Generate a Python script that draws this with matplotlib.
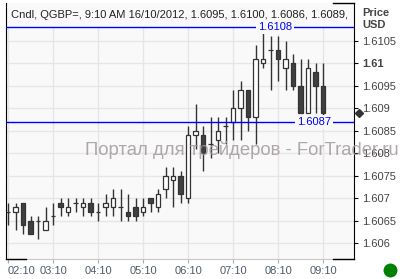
import matplotlib.pyplot as plt
from matplotlib.patches import Rectangle
from matplotlib.lines import Line2D

plt.rcParams['font.family'] = ['Liberation Sans', 'DejaVu Sans']

# 10-minute candles, 02:10 .. 09:10, 16/10/2012
hour_labels = ["02:10", "03:10", "04:10", "05:10", "06:10", "07:10", "08:10", "09:10"]
opens = [1.6067, 1.6067, 1.6069, 1.6065, 1.6065, 1.6063, 1.6066, 1.6069, 1.6067, 1.6069,
         1.6068, 1.6069, 1.6067, 1.6068, 1.6068, 1.6068, 1.6067, 1.6068, 1.6067, 1.6070,
         1.6068, 1.6072, 1.6074, 1.6075, 1.6070, 1.6084, 1.6084, 1.6082, 1.6083, 1.6086,
         1.6087, 1.6090, 1.6094, 1.6088, 1.6100, 1.6103, 1.6103, 1.6099, 1.6100, 1.6095,
         1.6089, 1.6098, 1.6095]
highs = [1.6069, 1.6069, 1.6069, 1.6066, 1.6066, 1.6068, 1.6069, 1.6070, 1.6070, 1.6070,
         1.6070, 1.6070, 1.6069, 1.6071, 1.6072, 1.6072, 1.6071, 1.6070, 1.6070, 1.6070,
         1.6072, 1.6077, 1.6077, 1.6076, 1.6086, 1.6091, 1.6086, 1.6088, 1.6088, 1.6088,
         1.6094, 1.6096, 1.6094, 1.6104, 1.6108, 1.6106, 1.6106, 1.6105, 1.6102, 1.6101,
         1.6101, 1.6100, 1.6100]
lows = [1.6064, 1.6063, 1.6062, 1.6062, 1.6061, 1.6063, 1.6064, 1.6066, 1.6066, 1.6067,
        1.6066, 1.6066, 1.6065, 1.6066, 1.6066, 1.6065, 1.6065, 1.6065, 1.6066, 1.6067,
        1.6067, 1.6070, 1.6068, 1.6069, 1.6069, 1.6081, 1.6076, 1.6079, 1.6080, 1.6082,
        1.6083, 1.6083, 1.6085, 1.6082, 1.6099, 1.6094, 1.6096, 1.6094, 1.6094, 1.6089,
        1.6089, 1.6089, 1.6086]
closes = [1.6067, 1.6068, 1.6064, 1.6062, 1.6065, 1.6065, 1.6066, 1.6068, 1.6068, 1.6069,
          1.6069, 1.6067, 1.6067, 1.6069, 1.6070, 1.6068, 1.6066, 1.6066, 1.6068, 1.6069,
          1.6071, 1.6075, 1.6075, 1.6071, 1.6084, 1.6085, 1.6080, 1.6082, 1.6085, 1.6086,
          1.6090, 1.6094, 1.6088, 1.6101, 1.6101, 1.6103, 1.6101, 1.6101, 1.6095, 1.6089,
          1.6099, 1.6095, 1.6089]
price_ticks = [1.606, 1.6065, 1.607, 1.6075, 1.608, 1.6085, 1.609, 1.6095, 1.61, 1.6105]
price_labels = ["1.606", "1.6065", "1.607", "1.6075", "1.608", "1.6085", "1.609", "1.6095", "1.61", "1.6105"]
high_level = 1.6108
last_level = 1.6087
last_close = 1.6089
title = "Cndl, QGBP=, 9:10 AM 16/10/2012, 1.6095, 1.6100, 1.6086, 1.6089,"
watermark = "Портал для трейдеров - ForTrader.ru"

bg = '#f9f9f9'
dark = '#333333'

fig = plt.figure(figsize=(4, 2.79), dpi=100)
ax = fig.add_axes([6 / 400, 1 - 259.3 / 279, 348 / 400, 256.3 / 279])
ax.set_facecolor(bg)

n = len(opens)
xs = list(range(n))
ax.vlines(xs, lows, highs, color=dark, lw=1.0, zorder=3)
bottoms = [min(o, c) for o, c in zip(opens, closes)]
heights = [abs(c - o) for o, c in zip(opens, closes)]
faces = ['white' if c >= o else '#404040' for o, c in zip(opens, closes)]
ax.bar(xs, heights, bottom=bottoms, width=0.64, color=faces, edgecolor=dark, lw=0.9, zorder=4)

ax.set_xlim(-0.27, 46.13)
ax.set_ylim(1.605644, 1.61134)

ax.set_xticks(range(0, n, 6))
ax.set_xticklabels(hour_labels)
ax.get_xticklabels()[0].set_horizontalalignment('left')
ax.tick_params(axis='x', length=3, color='#aaaaaa', labelcolor='#4f5b6b', labelsize=8, pad=2)

ax.yaxis.tick_right()
ax.set_yticks(price_ticks)
ax.set_yticklabels(price_labels)
ax.tick_params(axis='y', length=3, color='black', labelcolor='#444444', labelsize=8, pad=3)
for lab in ax.get_yticklabels():
    if lab.get_text() == "1.61":
        lab.set_fontweight('bold')

ax.grid(True, color='#e6e6e6', lw=1, zorder=0)
ax.set_axisbelow(True)

ax.spines['top'].set_visible(False)
ax.spines['bottom'].set_color('#c8c8c8')
ax.spines['left'].set_color('black')
ax.spines['right'].set_color('black')
ax.add_line(Line2D([0, 20 / 348], [0, 0], transform=ax.transAxes, color='black', lw=1, clip_on=False, zorder=6))
ax.add_line(Line2D([327 / 348, 1], [0, 0], transform=ax.transAxes, color='black', lw=1, clip_on=False, zorder=6))
ax.add_line(Line2D([327 / 348, 1], [1, 1], transform=ax.transAxes, color='black', lw=1, clip_on=False, zorder=6))

# title band
ax.add_patch(Rectangle((0, 0.91), 1, 0.09, transform=ax.transAxes, color=bg, zorder=1.5))
ax.text(5 / 348, 0.953, title, transform=ax.transAxes, va='center', ha='left',
        fontsize=8, color='#222222', zorder=7)

# level lines
ax.axhline(high_level, color='#0000ff', lw=1, zorder=5)
ax.axhline(last_level, color='#0000ff', lw=1, zorder=5)
ax.text(35.6, high_level, "1.6108", color='#0000ff', fontsize=8, ha='center', va='center', zorder=6,
        bbox=dict(facecolor=bg, edgecolor='none', pad=1.5))
ax.text(40.8, last_level, "1.6087", color='#0000ff', fontsize=8, ha='center', va='center', zorder=6,
        bbox=dict(facecolor=bg, edgecolor='none', pad=1.5))

ax.plot([1.0144], [last_close], marker='D', color=dark, markersize=4,
        transform=ax.get_yaxis_transform(), clip_on=False, zorder=8)

fig.text(362 / 400, 1 - 19 / 279, "Price\nUSD", fontsize=8, fontweight='bold', color='#444444',
         va='center', ha='left', linespacing=1.3)

fig.text(85 / 400, 1 - 150 / 279, watermark, fontsize=13.3, color='#a39a9a', alpha=0.85,
         va='center', ha='left', zorder=10)

fig.add_artist(Line2D([390 / 400], [1 - 270 / 279], marker='o', markersize=9, color='#008000',
                      transform=fig.transFigure))

fig.savefig('out.png', dpi=100)
